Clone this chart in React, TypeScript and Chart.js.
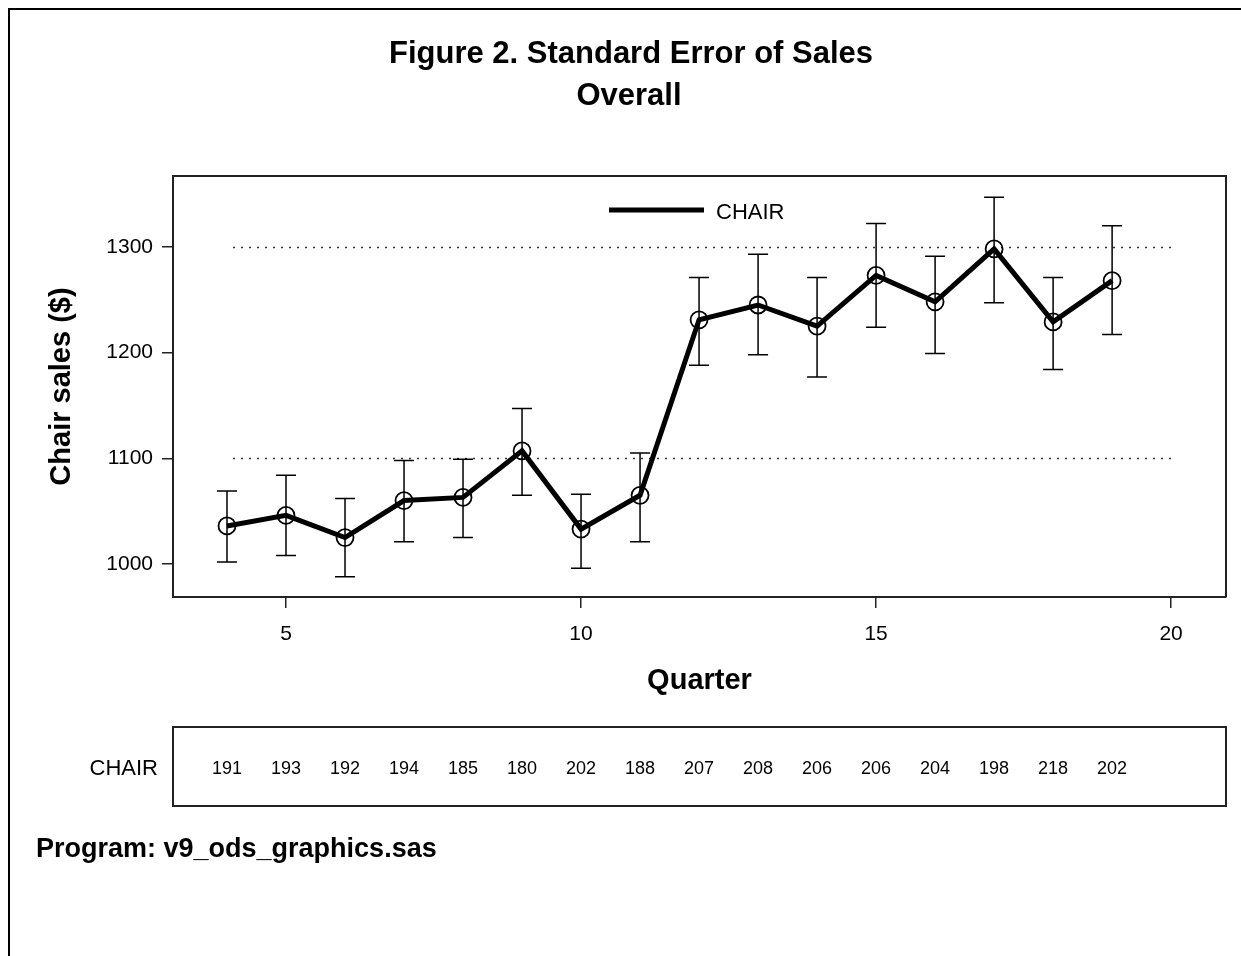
import React, { useEffect, useRef } from "react";
import { Chart, registerables } from "chart.js";

Chart.register(...registerables);

const quarters = [4, 5, 6, 7, 8, 9, 10, 11, 12, 13, 14, 15, 16, 17, 18, 19];
const means = [1036, 1046, 1025, 1060, 1063, 1107, 1033, 1065, 1231, 1245, 1225, 1273, 1248, 1298, 1229, 1268];
const upper = [1069, 1084, 1062, 1098, 1099, 1147, 1066, 1105, 1271, 1293, 1271, 1322, 1291, 1347, 1271, 1320];
const lower = [1002, 1008, 988, 1021, 1025, 1065, 996, 1021, 1188, 1198, 1177, 1224, 1199, 1247, 1184, 1217];
const counts = [191, 193, 192, 194, 185, 180, 202, 188, 207, 208, 206, 206, 204, 198, 218, 202];
const xTicks = [5, 10, 15, 20];
const yTicks = [1000, 1100, 1200, 1300];
const refLines = [1100, 1300];
const refRange = [4, 20];

const FONT = "'Liberation Sans', Arial, Helvetica, sans-serif";

const decorPlugin = {
  id: "decor",
  beforeDatasetsDraw(chart: any) {
    const { ctx, scales } = chart;
    const xs = scales.x;
    const ys = scales.y;
    ctx.save();
    // reference dotted lines
    ctx.strokeStyle = "#333";
    ctx.lineWidth = 1.5;
    ctx.setLineDash([2, 6]);
    refLines.forEach((v) => {
      const y = Math.round(ys.getPixelForValue(v)) + 0.5;
      ctx.beginPath();
      ctx.moveTo(xs.getPixelForValue(refRange[0]) + 6, y);
      ctx.lineTo(xs.getPixelForValue(refRange[1]), y);
      ctx.stroke();
    });
    ctx.setLineDash([]);
    // error bars
    ctx.strokeStyle = "#000";
    ctx.lineWidth = 1.5;
    quarters.forEach((q, i) => {
      const x = xs.getPixelForValue(q);
      const yu = ys.getPixelForValue(upper[i]);
      const yl = ys.getPixelForValue(lower[i]);
      ctx.beginPath();
      ctx.moveTo(x, yu);
      ctx.lineTo(x, yl);
      ctx.moveTo(x - 10, yu);
      ctx.lineTo(x + 10, yu);
      ctx.moveTo(x - 10, yl);
      ctx.lineTo(x + 10, yl);
      ctx.stroke();
    });
    ctx.restore();
  },
  afterDraw(chart: any) {
    const { ctx, chartArea, scales } = chart;
    const xs = scales.x;
    ctx.save();
    // outer border
    ctx.strokeStyle = "#000";
    ctx.lineWidth = 2;
    ctx.beginPath();
    ctx.moveTo(9, 1000);
    ctx.lineTo(9, 9);
    ctx.lineTo(1300, 9);
    ctx.stroke();
    // plot frame top/right
    ctx.strokeStyle = "#222";
    ctx.lineWidth = 2;
    ctx.beginPath();
    ctx.moveTo(chartArea.left, chartArea.top);
    ctx.lineTo(chartArea.right, chartArea.top);
    ctx.lineTo(chartArea.right, chartArea.bottom);
    ctx.stroke();
    // titles
    ctx.fillStyle = "#000";
    ctx.textAlign = "center";
    ctx.textBaseline = "middle";
    ctx.font = `bold 31px ${FONT}`;
    ctx.fillText("Figure 2. Standard Error of Sales", 631, 54);
    ctx.fillText("Overall", 629, 96);
    // legend
    ctx.lineWidth = 5;
    ctx.strokeStyle = "#000";
    ctx.beginPath();
    ctx.moveTo(609, 210);
    ctx.lineTo(704, 210);
    ctx.stroke();
    ctx.font = `22px ${FONT}`;
    ctx.textAlign = "left";
    ctx.fillText("CHAIR", 716, 213);
    // table box
    ctx.strokeStyle = "#222";
    ctx.lineWidth = 2;
    ctx.strokeRect(chartArea.left, 727, chartArea.right - chartArea.left, 79);
    ctx.font = `22px ${FONT}`;
    ctx.textAlign = "right";
    ctx.fillText("CHAIR", 158, 769);
    ctx.font = `18px ${FONT}`;
    ctx.textAlign = "center";
    quarters.forEach((q, i) => {
      ctx.fillText(String(counts[i]), xs.getPixelForValue(q), 769);
    });
    // program footnote
    ctx.font = `bold 27px ${FONT}`;
    ctx.textAlign = "left";
    ctx.fillText("Program: v9_ods_graphics.sas", 36, 850);
    ctx.restore();
  },
};

export default function App() {
  const ref = useRef<HTMLCanvasElement>(null);
  useEffect(() => {
    const canvas = ref.current;
    if (!canvas) return;
    const chart = new Chart(canvas, {
      type: "line",
      data: {
        datasets: [
          {
            label: "CHAIR",
            data: quarters.map((q, i) => ({ x: q, y: means[i] })),
            borderColor: "#000",
            borderWidth: 5,
            pointRadius: 8.5,
            pointBorderWidth: 1.8,
            pointBorderColor: "#000",
            pointBackgroundColor: "rgba(0,0,0,0)",
            tension: 0,
          },
        ],
      },
      options: {
        responsive: false,
        animation: false,
        layout: { padding: { left: 0, right: 15, top: 176, bottom: 239 } },
        plugins: {
          legend: { display: false },
          tooltip: { enabled: false },
          title: { display: false },
        },
        scales: {
          x: {
            type: "linear",
            min: 3.085,
            max: 20.93,
            afterBuildTicks: (s: any) => {
              s.ticks = xTicks.map((v) => ({ value: v }));
            },
            afterFit: (s: any) => {
              s.height = 120;
            },
            ticks: {
              color: "#000",
              font: { family: FONT, size: 21 },
              padding: 14,
              maxRotation: 0,
              callback: (v: any) => String(v),
            },
            grid: {
              display: true,
              drawOnChartArea: false,
              drawTicks: true,
              tickLength: 11,
              color: "#222",
              lineWidth: 1.5,
            },
            border: { display: true, color: "#222", width: 2 },
            title: {
              display: true,
              text: "Quarter",
              color: "#000",
              font: { family: FONT, size: 29, weight: "bold" },
              padding: { top: 0, bottom: 18.6 },
            },
          },
          y: {
            type: "linear",
            min: 968.8,
            max: 1367,
            afterBuildTicks: (s: any) => {
              s.ticks = yTicks.map((v) => ({ value: v }));
            },
            afterFit: (s: any) => {
              s.width = 173;
            },
            ticks: {
              color: "#000",
              font: { family: FONT, size: 21 },
              padding: 9,
              callback: (v: any) => String(v),
            },
            grid: {
              display: true,
              drawOnChartArea: false,
              drawTicks: true,
              tickLength: 11,
              color: "#222",
              lineWidth: 1.5,
            },
            border: { display: true, color: "#222", width: 2 },
            title: {
              display: true,
              text: "Chair sales ($)",
              color: "#000",
              font: { family: FONT, size: 29, weight: "bold" },
              padding: { top: 45, bottom: 0 },
            },
          },
        },
      },
      plugins: [decorPlugin],
    } as any);
    return () => chart.destroy();
  }, []);
  return (
    <canvas
      ref={ref}
      width={1241}
      height={956}
      style={{ position: "fixed", top: 0, left: 0, width: 1241, height: 956, background: "#fff" }}
    />
  );
}
